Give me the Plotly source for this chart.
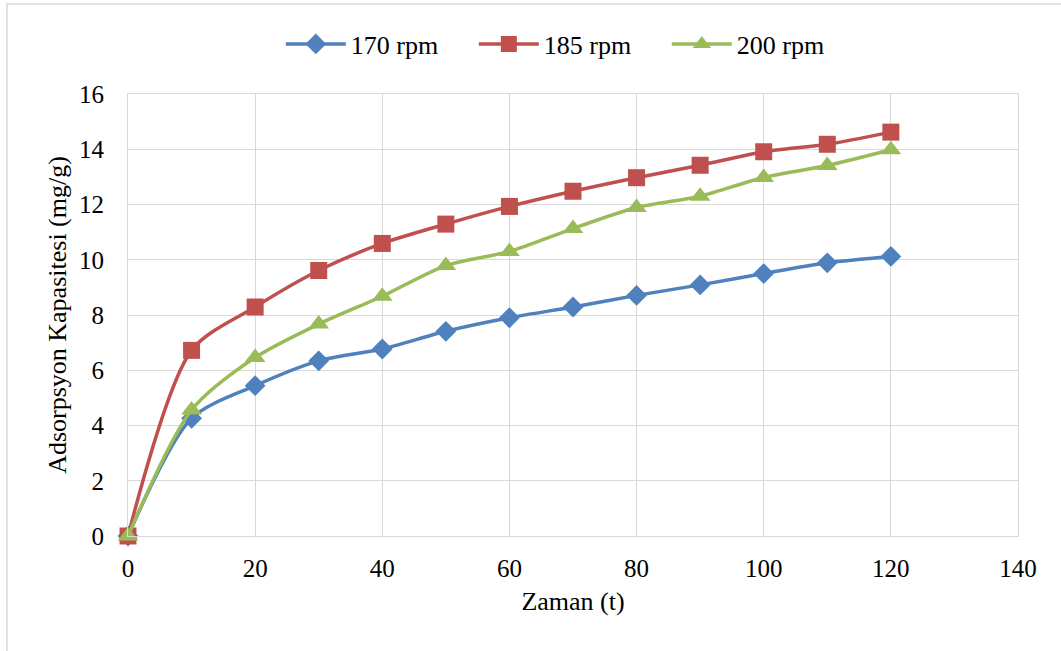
import plotly.graph_objects as go

# Contact time (t) and adsorption capacity (mg/g) at three stirring speeds
zaman = [0, 10, 20, 30, 40, 50, 60, 70, 80, 90, 100, 110, 120]
rpm_170 = [0, 4.26, 5.44, 6.34, 6.77, 7.41, 7.90, 8.29, 8.71, 9.09, 9.50, 9.89, 10.12]
rpm_185 = [0, 6.72, 8.29, 9.61, 10.59, 11.29, 11.93, 12.48, 12.97, 13.42, 13.91, 14.18, 14.62]
rpm_200 = [0, 4.56, 6.46, 7.67, 8.68, 9.79, 10.30, 11.13, 11.89, 12.30, 12.98, 13.41, 13.98]

y_ticks = [0, 2, 4, 6, 8, 10, 12, 14, 16]
x_ticks = [0, 20, 40, 60, 80, 100, 120, 140]

series = [
    ("170 rpm", rpm_170, "#4F81BD", "diamond", 16),
    ("185 rpm", rpm_185, "#C0504D", "square", 17),
    ("200 rpm", rpm_200, "#9BBB59", "triangle-up", 18),
]

fig = go.Figure()
for name, vals, color, symbol, size in series:
    fig.add_trace(go.Scatter(
        x=zaman, y=vals, name=name, mode="lines+markers", cliponaxis=False,
        line=dict(color=color, width=3.5, shape="spline", smoothing=0.8),
        marker=dict(symbol=symbol, size=size, color=color),
    ))

font = '"Liberation Serif", "Times New Roman", Times, serif'
grid = "#D9D9D9"

fig.update_layout(
    width=1061, height=651,
    margin=dict(l=128, r=43, t=94, b=115, autoexpand=False),
    paper_bgcolor="white", plot_bgcolor="white",
    font=dict(family=font, size=25, color="black"),
    legend=dict(orientation="h", x=0.497, xanchor="center", y=1.113, yanchor="middle",
                font=dict(family=font, size=26), itemwidth=60, traceorder="normal",
                entrywidth=118, entrywidthmode="pixels",
                bgcolor="rgba(0,0,0,0)"),
    xaxis=dict(range=[0, 140], tickvals=x_ticks, showgrid=True, gridcolor=grid, gridwidth=1,
               showline=True, linecolor=grid, mirror=True, zeroline=False,
               ticks="", ticklabelstandoff=10, tickfont=dict(family=font, size=25),
               title=dict(text="Zaman (t)", font=dict(family=font, size=26), standoff=10)),
    yaxis=dict(range=[0, 16], tickvals=y_ticks, showgrid=True, gridcolor=grid, gridwidth=1,
               showline=True, linecolor=grid, mirror=True, zeroline=False,
               ticks="", ticklabelstandoff=18, tickfont=dict(family=font, size=25),
               title=dict(text="Adsorpsyon Kapasitesi (mg/g)", font=dict(family=font, size=26),
                          standoff=4)),
    shapes=[dict(type="rect", xref="paper", yref="paper",
                 x0=-0.136, x1=1.2, y0=-0.4, y1=1.2036,
                 line=dict(color=grid, width=1.5), layer="below")],
)

fig.write_html("out.html")
